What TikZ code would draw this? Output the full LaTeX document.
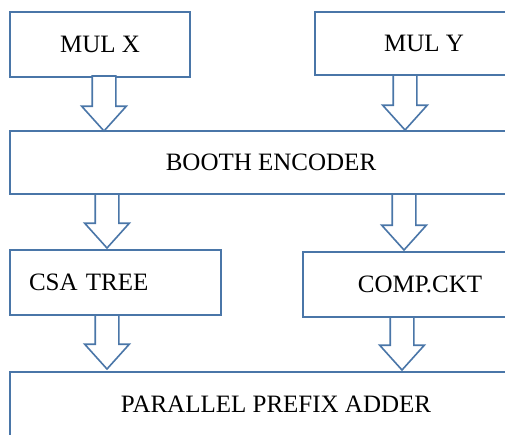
\documentclass[tikz,border=0pt]{standalone}
\usepackage{fontspec}
\setmainfont{Liberation Serif}
\usepackage{tikz}
\usetikzlibrary{shapes.arrows}
\definecolor{edgeblue}{RGB}{74,118,168}
\tikzstyle{blk}=[rectangle,draw=edgeblue,line width=1.6pt,outer sep=0pt,inner sep=0pt,font=\fontsize{25}{30}\selectfont]
\tikzstyle{barrow}=[single arrow,draw=edgeblue,fill=white,line width=1.6pt,inner sep=11pt,outer sep=0pt,
    shape border rotate=270,single arrow head extend=10.5pt,
    single arrow tip angle=84,single arrow head indent=0pt,anchor=tail]

\begin{document}
\begin{tikzpicture}[x=1pt,y=-1pt]
        \useasboundingbox (0,0) rectangle (505,434);
        \clip (0,0) rectangle (505,434);
        \node[blk, anchor=north west, minimum width=180pt, minimum height=65pt] (X) at (10,12) {MUL X}
        ;
        \node[blk, anchor=north west, minimum width=218pt, minimum height=63pt] (Y) at (315,12) {MUL Y}
        ;
        \node[blk, anchor=north west, minimum width=522pt, minimum height=63pt] (E) at (10,131) {BOOTH ENCODER}
        ;
        \node[blk, anchor=north west, minimum width=211pt, minimum height=65pt, text width=173pt, inner xsep=19pt, align=left] (T) at (10,250) {CSA TREE}
        ;
        \node[blk, anchor=north west, minimum width=234pt, minimum height=65pt] (C) at (303,252) {COMP.CKT}
        ;
        \node[blk, anchor=north west, minimum width=532pt, minimum height=64pt] (P) at (10,372) {PARALLEL PREFIX ADDER}
        ;
        % block arrows
        \node[barrow, minimum height=55pt] (xe) at (104,76) {};
        \node[barrow, minimum height=55pt] (ye) at (405,75) {};
        \node[barrow, minimum height=54pt] (et) at (107,194) {};
        \node[barrow, minimum height=56pt] (ec) at (404,194) {};
        \node[barrow, minimum height=54pt] (tp) at (107,315) {};
        \node[barrow, minimum height=53pt] (cp) at (402,317) {};
    \end{tikzpicture}
\end{document}
